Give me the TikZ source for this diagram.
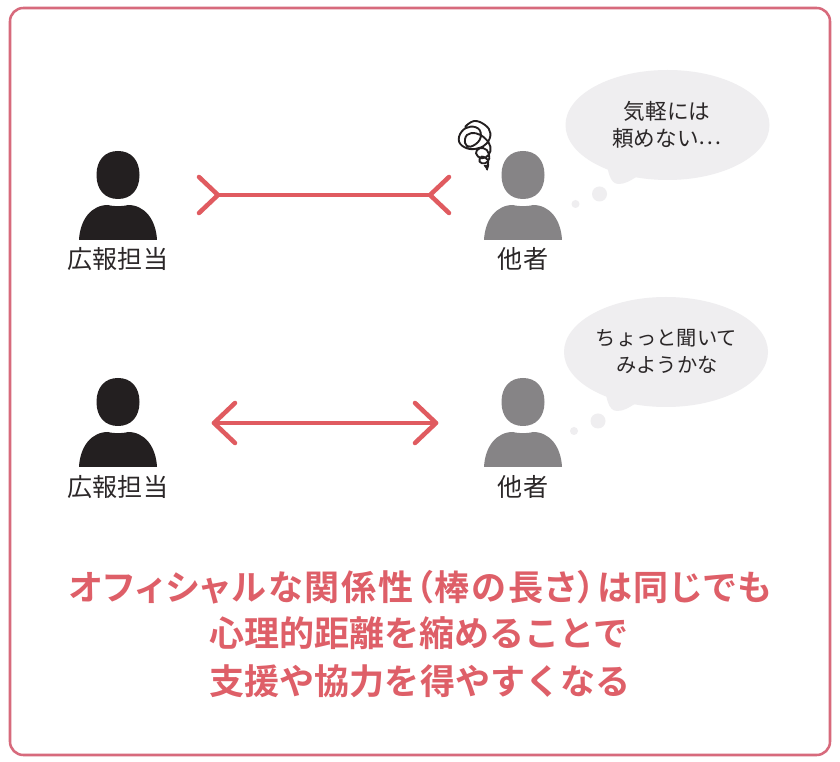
\documentclass[tikz,border=0pt]{standalone}
\usepackage{fontspec}
\setmainfont{Noto Sans CJK JP}[BoldFont={Noto Sans CJK JP Bold}]
\definecolor{framec}{HTML}{D76A7C}
\definecolor{redc}{HTML}{E05B60}
\definecolor{headc}{HTML}{DE5F68}
\definecolor{bubblec}{HTML}{EFEEF0}
\definecolor{darkp}{HTML}{231F20}
\definecolor{grayp}{HTML}{868486}
\definecolor{textc}{HTML}{2B2728}
\tikzset{
  x=0.75pt,y=-0.75pt,
  bar/.style={draw=redc,line width=3.4pt,line cap=round,line join=round},
  namelabel/.style={inner sep=0,text=textc,font=\fontsize{18.8}{20}\selectfont},
  saylabel/.style={inner sep=0,text=textc,font=\fontsize{15.2}{20}\selectfont},
  saylabelb/.style={inner sep=0,text=textc,font=\fontsize{16.2}{20}\selectfont},
  headline/.style={inner sep=0,text=headc,font=\fontsize{26.3}{30}\selectfont\bfseries},
  headtight/.style={inner sep=0,text=headc,font=\fontsize{26.3}{30}\selectfont\bfseries\addfontfeatures{RawFeature=+palt,LetterSpace=5.4}},
  person/.pic={
    \fill[pic actions] (-21.5,-65) .. controls (-21.5,-80) and (-13,-89) .. (0,-89)
      .. controls (13,-89) and (21.5,-80) .. (21.5,-65)
      .. controls (21.5,-50) and (13,-41) .. (0,-41)
      .. controls (-13,-41) and (-21.5,-50) .. (-21.5,-65) -- cycle;
    \fill[pic actions] (-39,0) .. controls (-38,-20) and (-27,-35) .. (-10,-35)
      .. controls (-5,-33.5) and (5,-33.5) .. (10,-35)
      .. controls (27,-35) and (38,-20) .. (39,0) -- cycle;
  },
  thought/.pic={
    \fill[bubblec] (0,0) ellipse[x radius=102,y radius=55];
    \fill[bubblec] (-62,30) .. controls (-60,45) and (-58,59) .. (-49,59)
      .. controls (-42,59) and (-38,56) .. (-28,50) -- cycle;
    \fill[bubblec] (-68,69) circle[radius=7.5];
    \fill[bubblec] (-92,79) circle[radius=4];
  }
}
\begin{document}
\begin{tikzpicture}
\useasboundingbox (0,0) rectangle (840,762);
\fill[white] (0,0) rectangle (840,762);
\draw[framec,line width=1.9pt,rounded corners=10pt] (10,8) rectangle (830,755);

% upper row
\pic[darkp] at (118,240) {person};
\pic[grayp] at (523,240) {person};
\pic at (667.5,125) {thought};
\node[namelabel] (n1) at (118,259) {広報担当};
\node[namelabel] (n2) at (523,259) {他者};
\node[saylabelb] (s1) at (667,111) {気軽には};
\node[saylabelb] (s2) at (667,138) {頼めない\raisebox{1.6pt}{⋯}};
\coordinate (al) at (218,195);
\coordinate (ar) at (430,195);
\coordinate (alu) at (199,177);
\coordinate (all) at (199,213);
\coordinate (aru) at (449,177);
\coordinate (arl) at (449,213);
\draw[bar] (al) -- (ar);
\draw[bar] (alu) -- (al) -- (all);
\draw[bar] (aru) -- (ar) -- (arl);
\begin{scope}[shift={(449,110)},x=0.27pt,y=-0.25pt]
\draw[darkp,line width=1.4pt,line cap=round,line join=round]
  plot[smooth,tension=0.7] coordinates {
   (45,50) (70,33) (100,45) (115,70) (105,100) (80,115) (50,115) (28,95)
   (35,65) (60,50) (85,60) (85,90) (60,110) (45,100) (50,75) (75,70)
   (100,85) (115,110) (110,135) (90,145) (75,130) (85,115) (105,120)
   (112,145) (100,160) (85,155) (90,140) (108,150) (105,178)};
\fill[darkp] (96,166) -- (112,164) -- (107,182) -- cycle;
\end{scope}

% lower row
\pic[darkp] at (118,467) {person};
\pic[grayp] at (523,467) {person};
\pic at (666,352) {thought};
\node[namelabel] (n3) at (118,487) {広報担当};
\node[namelabel] (n4) at (523,487) {他者};
\node[saylabel] (s3) at (666.5,338) {ちょっと聞いて};
\node[saylabel] (s4) at (667,365) {みようかな};
\coordinate (bl) at (214,423);
\coordinate (br) at (436,423);
\coordinate (blu) at (235,403);
\coordinate (bll) at (235,443);
\coordinate (bru) at (415,403);
\coordinate (brl) at (415,443);
\draw[bar] (bl) -- (br);
\draw[bar] (blu) -- (bl) -- (bll);
\draw[bar] (bru) -- (br) -- (brl);

% headline
\node[headtight] (h1) at (420,587) {オフィシャルな関係性（棒の長さ）は同じでも};
\node[headline] (h2) at (419,633) {心理的距離を縮めることで};
\node[headline] (h3) at (420,681) {支援や協力を得やすくなる};
\end{tikzpicture}
\end{document}
